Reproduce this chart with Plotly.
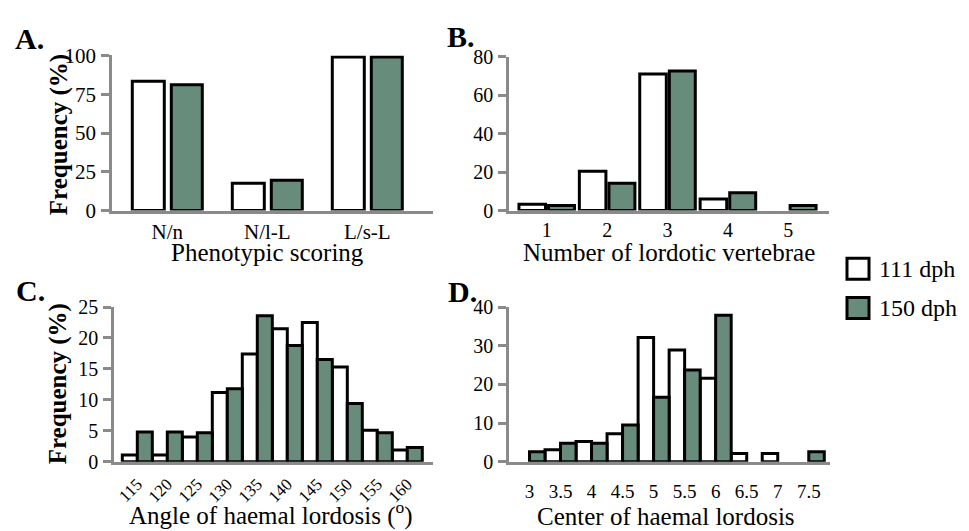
import plotly.graph_objects as go

W, H = 969, 531

# ---------------- data ----------------
series_names = ["111 dph", "150 dph"]

a_categories = ["N/n", "N/l-L", "L/s-L"]
a_111 = [83.3, 17.7, 99.0]
a_150 = [81.1, 19.5, 99.0]

b_categories = ["1", "2", "3", "4", "5"]
b_111 = [3.3, 20.5, 70.9, 6.0, 0]
b_150 = [2.6, 14.2, 72.5, 9.3, 2.6]

c_categories = ["115", "120", "125", "130", "135", "140", "145", "150", "155", "160"]
c_111 = [1.1, 1.1, 4.0, 11.2, 17.4, 21.5, 22.5, 15.3, 5.1, 1.9]
c_150 = [4.8, 4.8, 4.7, 11.8, 23.6, 18.8, 16.5, 9.4, 4.7, 2.3]

d_categories = ["3", "3.5", "4", "4.5", "5", "5.5", "6", "6.5", "7", "7.5"]
d_111 = [0, 3.1, 5.2, 7.2, 32.1, 28.9, 21.6, 2.1, 2.1, 0]
d_150 = [2.6, 4.8, 4.8, 9.5, 16.7, 23.7, 37.9, 0, 0, 2.6]

# ---------------- style ----------------
FONT = "Liberation Serif"
GREEN = "#688c7c"
AXIS_GREY = "#8a8a8a"
EDGE = "black"
EDGE_W = 3

def px_x(x):
    return x / W

def px_y(y):
    return 1 - y / H

# panel geometry in pixels: (left, right, top, bottom)
panels = {
    "A": dict(box=(112, 433, 45.5, 208), xr=[-0.553, 2.657], yr=[0, 100], dt=25,
              cats=a_categories, v1=a_111, v2=a_150,
              off=(-0.35, 0.04), wid=(0.32, 0.31), tickangle=0, tfs=21, ytfs=21, so=0),
    "B": dict(box=(509, 829, 46.7, 208), xr=[-0.625, 4.674], yr=[0, 80], dt=20,
              cats=b_categories, v1=b_111, v2=b_150,
              off=(-0.46, 0.03), wid=(0.44, 0.43), tickangle=0, tfs=20, ytfs=20, so=0),
    "C": dict(box=(114, 433, 309, 471), xr=[-0.777, 9.857], yr=[0, 25], dt=5,
              cats=c_categories, v1=c_111, v2=c_150,
              off=(-0.5, 0.0), wid=(0.5, 0.5), tickangle=-45, tfs=17, ytfs=20, so=3),
    "D": dict(box=(509, 830, 309, 471), xr=[-0.66, 9.684], yr=[0, 40], dt=10,
              cats=d_categories, v1=d_111, v2=d_150,
              off=(-0.5, 0.0), wid=(0.5, 0.5), tickangle=0, tfs=19, ytfs=20, so=11),
}

fig = go.Figure()
layout = dict(
    width=W, height=H,
    margin=dict(l=0, r=0, t=0, b=0),
    paper_bgcolor="white", plot_bgcolor="white",
    barmode="overlay",
    showlegend=False,
    font=dict(family=FONT, color="black"),
)

for i, (name, p) in enumerate(panels.items()):
    idx = "" if i == 0 else str(i + 1)
    xa, ya = "x" + idx, "y" + idx
    left, right, top, bottom = p["box"]
    for s, (vals, fill) in enumerate([(p["v1"], "white"), (p["v2"], GREEN)]):
        fig.add_trace(go.Bar(
            x=p["cats"], y=[v if v else None for v in vals],
            name=series_names[s],
            xaxis=xa, yaxis=ya,
            offset=p["off"][s], width=p["wid"][s],
            marker=dict(color=fill, line=dict(color=EDGE, width=EDGE_W)),
            cliponaxis=False,
        ))
    layout["xaxis" + idx] = dict(
        domain=[px_x(left), px_x(right)], anchor=ya,
        type="category", categoryorder="array", categoryarray=p["cats"],
        range=p["xr"], showline=True, linecolor=AXIS_GREY, linewidth=2.5,
        ticks="", showgrid=False, zeroline=False, tickangle=p["tickangle"],
        ticklabelstandoff=p["so"],
        tickfont=dict(family=FONT, size=p["tfs"], color="black"),
    )
    layout["yaxis" + idx] = dict(
        domain=[px_y(bottom), px_y(top)], anchor=xa,
        range=p["yr"], dtick=p["dt"], tick0=0,
        showline=True, linecolor=AXIS_GREY, linewidth=2.5,
        ticks="outside", ticklen=8, tickwidth=2.5, tickcolor=AXIS_GREY,
        showgrid=False, zeroline=False, ticklabelstandoff=1,
        tickfont=dict(family=FONT, size=p["ytfs"], color="black"),
    )

fig.update_layout(**layout)

ann = []
# panel letters
for txt, x, y in [("A.", 29, 28), ("B.", 461, 26), ("C.", 30, 292), ("D.", 462, 293)]:
    ann.append(dict(text="<b>%s</b>" % txt, x=px_x(x), y=px_y(y), xref="paper", yref="paper",
                    showarrow=False, font=dict(family=FONT, size=30, color="black"),
                    xanchor="center", yanchor="middle"))
# axis titles (top row)
for txt, x, y in [("Phenotypic scoring", 267, 252),
                  ("Number of lordotic vertebrae", 669, 252)]:
    ann.append(dict(text=txt, x=px_x(x), y=px_y(y), xref="paper", yref="paper",
                    showarrow=False, font=dict(family=FONT, size=25, color="black"),
                    xanchor="center", yanchor="middle"))
# axis titles (bottom row), anchored to the bottom edge of the page
for txt, x in [("Angle of haemal lordosis (<sup>o</sup>)", 271),
               ("Center of haemal lordosis", 666)]:
    ann.append(dict(text=txt, x=px_x(x), y=0, xref="paper", yref="paper",
                    showarrow=False, font=dict(family=FONT, size=25, color="black"),
                    xanchor="center", yanchor="bottom", yshift=-13))
for x, y in [(59, 129), (58, 390)]:
    ann.append(dict(text="<b>Frequency (%)</b>", x=px_x(x), y=px_y(y), xref="paper", yref="paper",
                    showarrow=False, textangle=-90, font=dict(family=FONT, size=25, color="black"),
                    xanchor="center", yanchor="middle"))

# legend (drawn manually for large swatches)
shapes = []
for k, (fill, yc) in enumerate([("white", 269), (GREEN, 310)]):
    shapes.append(dict(type="rect", xref="paper", yref="paper",
                       x0=px_x(847), x1=px_x(869), y0=px_y(yc + 11), y1=px_y(yc - 11),
                       fillcolor=fill, line=dict(color="black", width=3)))
    ann.append(dict(text=series_names[k], x=px_x(877), y=px_y(yc), xref="paper", yref="paper",
                    showarrow=False, font=dict(family=FONT, size=24, color="black"),
                    xanchor="left", yanchor="middle"))

fig.update_layout(annotations=ann, shapes=shapes)
fig.write_html("out.html")
